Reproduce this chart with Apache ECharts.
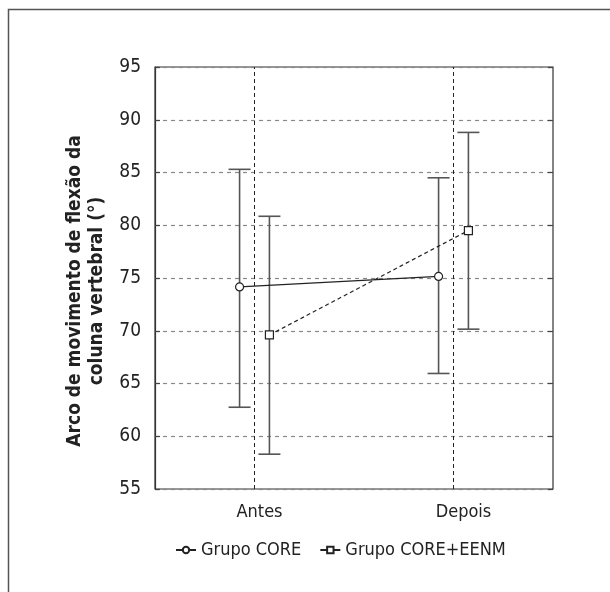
<!DOCTYPE html>
<html>
<head>
<meta charset="utf-8">
<script src="https://cdn.jsdelivr.net/npm/echarts@6/dist/echarts.min.js"></script>
<style>
html, body { margin: 0; padding: 0; background: #fff; }
#chart { width: 610px; height: 592px; }
</style>
</head>
<body>
<div id="chart"></div>
<script>
// valores (média e limites das barras de erro)
var categories = ['Antes', 'Depois'];
var coreMean = [74.15, 75.15];
var coreLow = [62.75, 65.95];
var coreHigh = [85.3, 84.5];
var eenmMean = [69.6, 79.5];
var eenmLow = [58.3, 70.15];
var eenmHigh = [80.85, 88.8];
var yMin = 55, yMax = 95, yStep = 5;

var font = "'Liberation Sans Narrow', 'DejaVu Sans Condensed', Roboto, sans-serif";
var off = 0.075; // deslocamento horizontal de cada grupo

function pts(mean, d) {
	return mean.map(function (v, i) { return [i + 0.5 + d, v]; });
}
function bars(low, high, d) {
	return low.map(function (v, i) { return [i + 0.5 + d, v, high[i]]; });
}
function renderBar(params, api) {
	var x = api.value(0);
	var lo = api.coord([x, api.value(1)]);
	var hi = api.coord([x, api.value(2)]);
	var st = { stroke: '#555', lineWidth: 1.6 };
	var h = 11;
	return {
		type: 'group',
		children: [
			{ type: 'line', shape: { x1: lo[0], y1: lo[1], x2: hi[0], y2: hi[1] }, style: st },
			{ type: 'line', shape: { x1: hi[0] - h, y1: hi[1], x2: hi[0] + h, y2: hi[1] }, style: st },
			{ type: 'line', shape: { x1: lo[0] - h, y1: lo[1], x2: lo[0] + h, y2: lo[1] }, style: st }
		]
	};
}

var chart = echarts.init(document.getElementById('chart'));
chart.setOption({
	animation: false,
	textStyle: { fontFamily: font },
	graphic: [{
		type: 'rect', shape: { x: 8.5, y: 9.5, width: 800, height: 800 },
		style: { fill: 'none', stroke: '#555', lineWidth: 1.5 }, silent: true
	}],
	grid: { left: 155, top: 67, right: 57, bottom: 103, show: true, borderColor: '#333', borderWidth: 1.2 },
	legend: {
		left: 170, top: 536,
		itemWidth: 20, itemHeight: 8, itemGap: 18,
		lineStyle: { type: 'solid' },
		textStyle: { fontFamily: font, fontSize: 18, color: '#222' },
		data: ['Grupo CORE', 'Grupo CORE+EENM']
	},
	xAxis: [{
		type: 'category', data: categories, boundaryGap: true,
		axisLine: { show: false }, axisTick: { show: false }, splitLine: { show: false },
		axisLabel: {
			fontFamily: font, fontSize: 18, color: '#222', margin: 14,
			formatter: function (v, i) { return i === 1 ? '{b|' + v + '}' : '{a|' + v + '}'; },
			rich: {
				a: { fontFamily: font, fontSize: 18, color: '#222', padding: [0, 0, 0, 10] },
				b: { fontFamily: font, fontSize: 18, color: '#222', padding: [0, 0, 8, 20] }
			}
		}
	}, {
		type: 'value', min: 0, max: 2, show: false
	}],
	yAxis: [{
		type: 'value', min: yMin, max: yMax, interval: yStep,
		name: 'Arco de movimento de flexão da\ncoluna vertebral (°)',
		nameLocation: 'middle', nameGap: 38,
		nameTextStyle: { fontFamily: font, fontSize: 19, fontWeight: 'bold', color: '#222', lineHeight: 22, padding: [0, 26, 0, 0] },
		axisLine: { show: true, lineStyle: { color: '#333', width: 1.2 } },
		axisTick: { show: true, inside: true, length: 5, lineStyle: { color: '#444', width: 1.2 } },
		axisLabel: { fontFamily: font, fontSize: 19, color: '#222', margin: 14 },
		splitLine: { show: true, lineStyle: { color: '#888', type: [4, 4], width: 1.2 } }
	}, {
		type: 'value', min: yMin, max: yMax, interval: yStep, position: 'right',
		axisLine: { show: false },
		axisTick: { show: true, inside: true, length: 5, lineStyle: { color: '#444', width: 1.2 } },
		axisLabel: { show: false },
		splitLine: { show: false }
	}],
	series: [{
		type: 'custom', xAxisIndex: 1, z: 1, silent: true,
		renderItem: renderBar, encode: { x: 0, y: [1, 2] },
		data: bars(coreLow, coreHigh, -off)
	}, {
		type: 'custom', xAxisIndex: 1, z: 1, silent: true,
		renderItem: renderBar, encode: { x: 0, y: [1, 2] },
		data: bars(eenmLow, eenmHigh, off)
	}, {
		name: 'Grupo CORE', type: 'line', xAxisIndex: 1, z: 3,
		symbol: 'circle', symbolSize: 8,
		lineStyle: { color: '#222', width: 1.2 },
		itemStyle: { color: '#fff', borderColor: '#222', borderWidth: 1.2 },
		data: pts(coreMean, -off),
		markLine: {
			silent: true, symbol: 'none', label: { show: false },
			lineStyle: { color: '#222', type: [4, 3], width: 1 },
			data: categories.map(function (c, i) { return { xAxis: i + 0.5 }; })
		}
	}, {
		name: 'Grupo CORE+EENM', type: 'line', xAxisIndex: 1, z: 3,
		symbol: 'rect', symbolSize: 8,
		lineStyle: { color: '#222', width: 1.2, type: [4, 3] },
		itemStyle: { color: '#fff', borderColor: '#222', borderWidth: 1.2 },
		data: pts(eenmMean, off)
	}]
});
</script>
</body>
</html>
